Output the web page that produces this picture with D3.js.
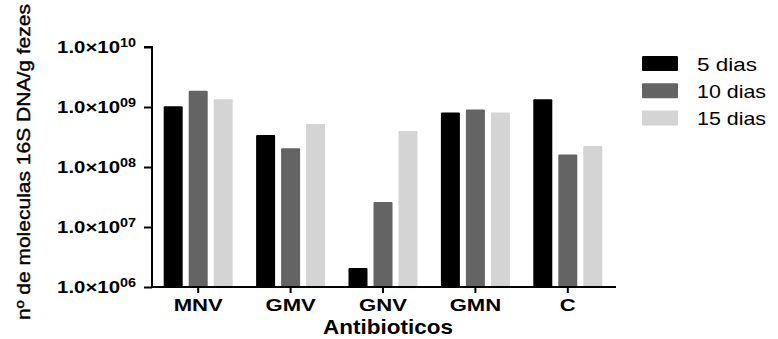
<!DOCTYPE html>
<html>
<head>
<meta charset="utf-8">
<script src="https://cdn.jsdelivr.net/npm/d3@7/dist/d3.min.js"></script>
<style>
  html, body { margin: 0; padding: 0; background: #fff; }
  svg { display: block; font-family: "Liberation Sans", Arial, sans-serif; }
</style>
</head>
<body>
<svg id="chart" width="778" height="339"></svg>
<script>
const categories = ["MNV", "GMV", "GNV", "GMN", "C"];
const seriesNames = ["5 dias", "10 dias", "15 dias"];
const dias5  = [1.03e9, 3.4e8, 2.07e6, 8.1e8, 1.34e9];
const dias10 = [1.87e9, 2.05e8, 2.6e7, 9.1e8, 1.62e8];
const dias15 = [1.35e9, 5.2e8, 4.0e8, 8.1e8, 2.24e8];
const tickValues = [1e6, 1e7, 1e8, 1e9, 1e10];
const tickExponents = ["06", "07", "08", "09", "10"];
const colors = ["#000000", "#646464", "#d4d4d4"];
const yTitle = "nº de moleculas 16S DNA/g fezes";
const xTitle = "Antibioticos";

const seriesValues = [dias5, dias10, dias15];
const svg = d3.select("#chart");

const mLeft = 152, mRight = 614, mTop = 47, mBottom = 287;

const y = d3.scaleLog().domain([1e6, 1e10]).range([mBottom, mTop]);
const x0 = d3.scaleBand().domain(categories).range([mLeft, mRight]).padding(0);
const groupW = 69;
const x1 = d3.scaleBand().domain(seriesNames)
  .range([(x0.bandwidth() - groupW) / 2, (x0.bandwidth() + groupW) / 2])
  .paddingInner(0.24).paddingOuter(0);

// bars
const g = svg.append("g");
categories.forEach((c, ci) => {
  seriesNames.forEach((s, si) => {
    const v = seriesValues[si][ci];
    g.append("rect")
      .attr("x", x0(c) + x1(s))
      .attr("y", y(v))
      .attr("width", x1.bandwidth())
      .attr("height", y(1e6) - y(v))
      .attr("rx", 1)
      .attr("fill", colors[si]);
  });
});

// y axis
const yAxis = d3.axisLeft(y).tickValues(tickValues).tickSize(8).tickFormat("");
const ya = svg.append("g").attr("transform", `translate(${mLeft},0)`).call(yAxis);
ya.select(".domain").attr("stroke", "#000").attr("stroke-width", 2).attr("d", `M-8,${mTop}H0V${mBottom}`);
ya.selectAll(".tick line").attr("stroke", "#000").attr("stroke-width", 2);

// y tick labels
tickValues.forEach((t, i) => {
  const tx = svg.append("text")
    .attr("font-weight", "bold")
    .attr("font-size", 17)
    .attr("text-anchor", "end")
    .attr("transform", `translate(136,${y(t) + 6}) scale(1.2,1)`);
  tx.append("tspan").text("1.0×10");
  tx.append("tspan").attr("font-size", 12).attr("dy", -6).text(tickExponents[i]);
});

// x axis
const xAxis = d3.axisBottom(x0).tickSize(6).tickFormat("");
const xa = svg.append("g").attr("transform", `translate(0,${mBottom})`).call(xAxis);
xa.select(".domain").attr("stroke", "#000").attr("stroke-width", 2).attr("d", `M${mLeft - 1},0H${mRight + 2}`);
xa.selectAll(".tick line").attr("stroke", "#000").attr("stroke-width", 2);

categories.forEach(c => {
  svg.append("text")
    .attr("font-weight", "bold")
    .attr("font-size", 16)
    .attr("text-anchor", "middle")
    .attr("transform", `translate(${x0(c) + x0.bandwidth() / 2},311) scale(1.38,1)`)
    .text(c);
});

// x title
svg.append("text")
  .attr("font-weight", "bold")
  .attr("font-size", 21)
  .attr("text-anchor", "middle")
  .attr("x", 388).attr("y", 334)
  .attr("textLength", 130).attr("lengthAdjust", "spacingAndGlyphs")
  .text(xTitle);

// y title
svg.append("text")
  .attr("font-size", 19)
  .attr("text-anchor", "middle")
  .attr("stroke", "#000").attr("stroke-width", 0.4)
  .attr("transform", "translate(30,162) rotate(-90)")
  .attr("textLength", 316).attr("lengthAdjust", "spacingAndGlyphs")
  .text(yTitle);

// legend
const legendLens = [60, 69, 69];
seriesNames.forEach((s, i) => {
  const ly = 56 + i * 27.3;
  svg.append("rect").attr("x", 642).attr("y", ly).attr("width", 36).attr("height", 15)
    .attr("rx", 1).attr("fill", colors[i]);
  svg.append("text").attr("x", 697).attr("y", ly + 14.5)
    .attr("font-size", 19)
    .attr("textLength", legendLens[i]).attr("lengthAdjust", "spacingAndGlyphs")
    .text(s);
});
</script>
</body>
</html>
